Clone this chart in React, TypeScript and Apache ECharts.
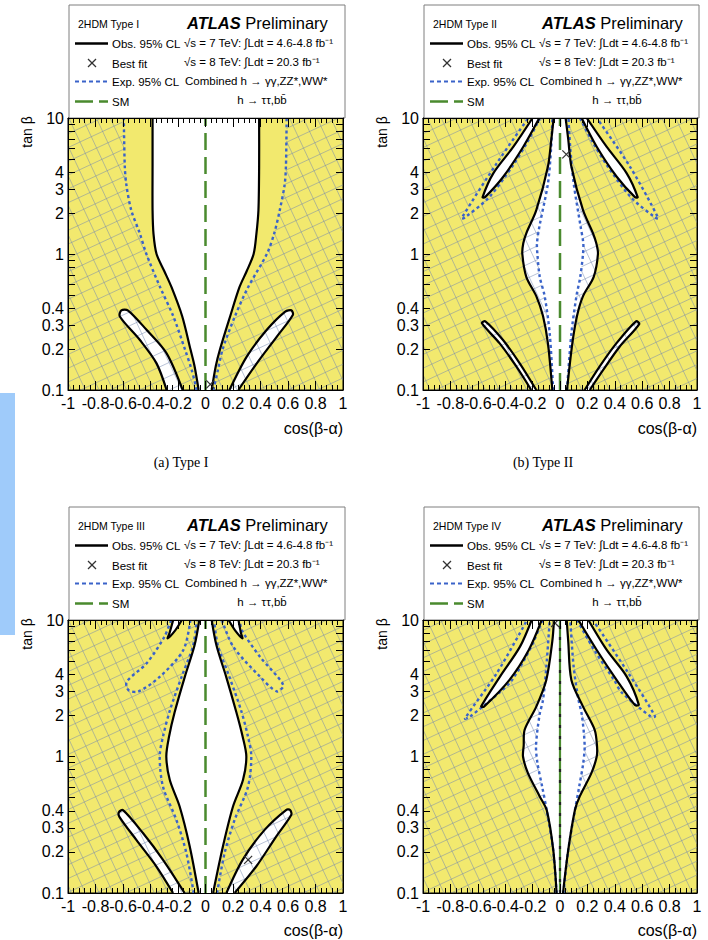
import { useEffect, useRef } from 'react';
import * as echarts from 'echarts';

type Pt = [number, number]; // [cos(beta-alpha), tan(beta)]

const FONT = 'Liberation Sans';
const SERIF = 'Liberation Serif';

const YELLOW = '#f2e96e';
const EXP_BLUE = '#3a63c9';
const SM_GREEN = '#4a8a2e';
const HATCH = 'rgba(115,135,175,0.5)';
const SMOOTH = 0.3;

// ---- axis ranges / ticks ----
const cosRange: Pt = [-1, 1];
const tanRange: Pt = [0.1, 10];
const tanBetaLabels = [0.1, 0.2, 0.3, 0.4, 1, 2, 3, 4, 10];
const tanBetaTicks = [0.1, 0.2, 0.3, 0.4, 0.5, 0.6, 0.7, 0.8, 0.9, 1, 2, 3, 4, 5, 6, 7, 8, 9, 10];
const smCos = 0;

// ---- Type I ----
const typeIObsLeft: Pt[] = [[-0.05, 0.1], [-0.08, 0.15], [-0.11, 0.2], [-0.17, 0.35], [-0.247, 0.57], [-0.3, 0.75], [-0.356, 1.0], [-0.378, 1.4], [-0.385, 2.1], [-0.385, 4.4], [-0.385, 10]];
const typeIObsRight: Pt[] = [[0.39, 10], [0.39, 4.4], [0.385, 2.1], [0.37, 1.4], [0.35, 1.0], [0.3, 0.75], [0.247, 0.57], [0.18, 0.35], [0.106, 0.2], [0.075, 0.15], [0.045, 0.1]];
const typeIExpLeft: Pt[] = [[-0.064, 0.1], [-0.1, 0.14], [-0.15, 0.2], [-0.235, 0.35], [-0.33, 0.57], [-0.43, 1.0], [-0.478, 1.42], [-0.54, 2.1], [-0.575, 3.2], [-0.587, 4.4], [-0.594, 10]];
const typeIExpRight: Pt[] = [[0.057, 0.1], [0.09, 0.14], [0.125, 0.2], [0.215, 0.35], [0.31, 0.57], [0.446, 1.0], [0.5, 1.42], [0.54, 2.1], [0.575, 3.2], [0.585, 4.4], [0.59, 10]];
const typeIIslandLeft: Pt[] = [[-0.166, 0.1], [-0.283, 0.186], [-0.429, 0.277], [-0.563, 0.384], [-0.612, 0.385], [-0.623, 0.347], [-0.477, 0.233], [-0.356, 0.157], [-0.283, 0.1]];
const typeIIslandRight: Pt[] = [[0.174, 0.1], [0.3, 0.176], [0.446, 0.277], [0.58, 0.377], [0.625, 0.385], [0.635, 0.356], [0.519, 0.247], [0.373, 0.157], [0.239, 0.1]];
const typeIBestFit: Pt = [0.035, 0.11];

// ---- Type II ----
const typeIIObsLeft: Pt[] = [[-0.056, 0.1], [-0.088, 0.22], [-0.124, 0.35], [-0.173, 0.49], [-0.246, 0.68], [-0.275, 1.0], [-0.268, 1.2], [-0.246, 1.42], [-0.173, 2.1], [-0.088, 4.4], [-0.063, 7], [-0.046, 10]];
const typeIIObsRight: Pt[] = [[0.041, 10], [0.06, 7], [0.083, 4.4], [0.168, 2.1], [0.241, 1.42], [0.265, 1.2], [0.277, 1.0], [0.246, 0.68], [0.168, 0.49], [0.124, 0.35], [0.09, 0.22], [0.051, 0.1]];
const typeIIExpLeft: Pt[] = [[-0.05, 0.1], [-0.075, 0.26], [-0.112, 0.49], [-0.148, 0.68], [-0.165, 1.0], [-0.168, 1.2], [-0.15, 1.6], [-0.088, 3.3], [-0.065, 6], [-0.055, 10]];
const typeIIExpRight: Pt[] = [[0.051, 0.1], [0.083, 0.26], [0.12, 0.49], [0.148, 0.68], [0.168, 1.0], [0.17, 1.2], [0.15, 1.6], [0.1, 3.3], [0.075, 6], [0.062, 10]];
const typeIIExpWedgeLeft: Pt[] = [[-0.146, 10], [-0.24, 6.6], [-0.35, 4.38], [-0.52, 2.6], [-0.693, 1.86], [-0.718, 1.83], [-0.462, 4.64], [-0.231, 10]];
const typeIIExpWedgeRight: Pt[] = [[0.146, 10], [0.24, 6.6], [0.35, 4.38], [0.52, 2.6], [0.693, 1.86], [0.718, 1.83], [0.511, 4.38], [0.268, 10]];
const typeIIIslandTopLeft: Pt[] = [[-0.151, 10], [-0.268, 6.15], [-0.414, 3.7], [-0.547, 2.62], [-0.565, 2.62], [-0.487, 3.92], [-0.34, 6.15], [-0.2, 10]];
const typeIIIslandTopRight: Pt[] = [[0.158, 10], [0.268, 6.15], [0.414, 3.7], [0.547, 2.62], [0.567, 2.62], [0.487, 3.92], [0.34, 6.15], [0.195, 10]];
const typeIIIslandBottomLeft: Pt[] = [[-0.173, 0.1], [-0.294, 0.157], [-0.416, 0.233], [-0.545, 0.32], [-0.57, 0.31], [-0.44, 0.22], [-0.319, 0.149], [-0.21, 0.1]];
const typeIIIslandBottomRight: Pt[] = [[0.18, 0.1], [0.29, 0.149], [0.411, 0.22], [0.555, 0.32], [0.578, 0.305], [0.435, 0.208], [0.314, 0.14], [0.217, 0.1]];
const typeIIBestFit: Pt = [0.046, 5.4];

// ---- Type III ----
const typeIIIObsLeft: Pt[] = [[-0.05, 0.1], [-0.115, 0.22], [-0.188, 0.43], [-0.26, 0.675], [-0.285, 1.0], [-0.265, 1.4], [-0.225, 2.1], [-0.15, 3.85], [-0.08, 6.5], [-0.045, 10]];
const typeIIIObsRight: Pt[] = [[0.045, 10], [0.08, 6.5], [0.15, 3.85], [0.225, 2.1], [0.27, 1.4], [0.297, 1.0], [0.273, 0.675], [0.2, 0.43], [0.127, 0.22], [0.055, 0.1]];
const typeIIIExpLeft: Pt[] = [[-0.086, 0.1], [-0.139, 0.196], [-0.212, 0.344], [-0.309, 0.6], [-0.333, 1.0], [-0.309, 1.4], [-0.258, 2.19], [-0.173, 3.85], [-0.09, 6.5], [-0.062, 10]];
const typeIIIExpRight: Pt[] = [[0.084, 0.1], [0.139, 0.196], [0.212, 0.344], [0.309, 0.6], [0.333, 1.0], [0.309, 1.4], [0.258, 2.19], [0.173, 3.85], [0.09, 6.5], [0.062, 10]];
const typeIIIExpLobeLeft: Pt[] = [[-0.11, 10], [-0.161, 6.03], [-0.331, 3.85], [-0.489, 2.99], [-0.561, 3.07], [-0.573, 3.53], [-0.428, 4.82], [-0.3, 7.5], [-0.25, 10]];
const typeIIIExpLobeRight: Pt[] = [[0.12, 10], [0.202, 6.38], [0.396, 3.85], [0.518, 3.0], [0.566, 3.34], [0.396, 5.38], [0.263, 8.45], [0.25, 10]];
const typeIIIIslandTopLeft: Pt[] = [[-0.172, 10], [-0.22, 8.4], [-0.275, 7.35], [-0.262, 8.0], [-0.235, 10]];
const typeIIIIslandTopRight: Pt[] = [[0.168, 10], [0.215, 8.4], [0.268, 7.35], [0.258, 8.0], [0.24, 10]];
const typeIIIIslandBottomLeft: Pt[] = [[-0.152, 0.1], [-0.309, 0.175], [-0.455, 0.275], [-0.6, 0.405], [-0.63, 0.39], [-0.625, 0.36], [-0.503, 0.245], [-0.358, 0.157], [-0.236, 0.1]];
const typeIIIIslandBottomRight: Pt[] = [[0.152, 0.1], [0.27, 0.175], [0.43, 0.29], [0.588, 0.407], [0.615, 0.405], [0.624, 0.374], [0.515, 0.26], [0.37, 0.157], [0.212, 0.1]];
const typeIIIBestFit: Pt = [0.31, 0.175];

// ---- Type IV ----
const typeIVObsLeft: Pt[] = [[-0.025, 0.1], [-0.049, 0.206], [-0.097, 0.405], [-0.148, 0.51], [-0.234, 0.755], [-0.27, 1.0], [-0.265, 1.2], [-0.258, 1.57], [-0.173, 2.32], [-0.1, 3.64], [-0.056, 7], [-0.044, 10]];
const typeIVObsRight: Pt[] = [[0.049, 10], [0.06, 7], [0.083, 3.64], [0.168, 2.32], [0.253, 1.57], [0.27, 1.2], [0.268, 1.0], [0.229, 0.755], [0.144, 0.51], [0.109, 0.405], [0.06, 0.206], [0.022, 0.1]];
const typeIVExpLeft: Pt[] = [[-0.025, 0.1], [-0.05, 0.206], [-0.097, 0.405], [-0.13, 0.6], [-0.165, 0.9], [-0.175, 1.2], [-0.15, 2.0], [-0.124, 2.6], [-0.1, 4.5], [-0.075, 10]];
const typeIVExpRight: Pt[] = [[0.025, 0.1], [0.06, 0.206], [0.109, 0.405], [0.14, 0.6], [0.17, 0.9], [0.18, 1.2], [0.16, 2.0], [0.135, 2.6], [0.1, 4.5], [0.075, 10]];
const typeIVExpWedgeLeft: Pt[] = [[-0.128, 10], [-0.21, 6.38], [-0.35, 3.63], [-0.44, 2.95], [-0.66, 1.95], [-0.693, 1.9], [-0.462, 4.07], [-0.24, 10]];
const typeIVExpWedgeRight: Pt[] = [[0.125, 10], [0.25, 6.03], [0.395, 3.63], [0.45, 2.95], [0.66, 1.97], [0.693, 1.97], [0.5, 4.07], [0.24, 10]];
const typeIVIslandTopLeft: Pt[] = [[-0.134, 10], [-0.228, 6.03], [-0.37, 3.63], [-0.555, 2.32], [-0.575, 2.33], [-0.438, 3.85], [-0.292, 6.38], [-0.207, 10]];
const typeIVIslandTopRight: Pt[] = [[0.134, 10], [0.268, 6.03], [0.414, 3.63], [0.547, 2.38], [0.575, 2.4], [0.487, 3.85], [0.341, 6.03], [0.207, 10]];
const typeIVBestFit: Pt = [-0.036, 9.5];

interface Panel {
  title: string;
  caption?: string;
  dx: number;
  dy: number;
  width: number;
  height: number;
  obsCentral: [Pt[], Pt[]];
  islands: Pt[][];
  expLeft: Pt[];
  expRight: Pt[];
  wedgeLeft?: Pt[];
  wedgeRight?: Pt[];
  bestFit: Pt;
  smSolid?: boolean;
}

const panels: Panel[] = [
  {
    title: '2HDM Type I', caption: '(a) Type I', dx: 0, dy: 0, width: 275, height: 272,
    obsCentral: [typeIObsLeft, typeIObsRight], islands: [typeIIslandLeft, typeIIslandRight],
    expLeft: typeIExpLeft, expRight: typeIExpRight, bestFit: typeIBestFit,
  },
  {
    title: '2HDM Type II', caption: '(b) Type II', dx: 355, dy: 0, width: 274, height: 272,
    obsCentral: [typeIIObsLeft, typeIIObsRight],
    islands: [typeIIIslandTopLeft, typeIIIslandTopRight, typeIIIslandBottomLeft, typeIIIslandBottomRight],
    expLeft: typeIIExpLeft, expRight: typeIIExpRight, wedgeLeft: typeIIExpWedgeLeft, wedgeRight: typeIIExpWedgeRight,
    bestFit: typeIIBestFit,
  },
  {
    title: '2HDM Type III', dx: 0, dy: 502, width: 275, height: 273,
    obsCentral: [typeIIIObsLeft, typeIIIObsRight],
    islands: [typeIIIIslandTopLeft, typeIIIIslandTopRight, typeIIIIslandBottomLeft, typeIIIIslandBottomRight],
    expLeft: typeIIIExpLeft, expRight: typeIIIExpRight, wedgeLeft: typeIIIExpLobeLeft, wedgeRight: typeIIIExpLobeRight,
    bestFit: typeIIIBestFit,
  },
  {
    title: '2HDM Type IV', dx: 355, dy: 502, width: 274, height: 273,
    obsCentral: [typeIVObsLeft, typeIVObsRight],
    islands: [typeIVIslandTopLeft, typeIVIslandTopRight],
    expLeft: typeIVExpLeft, expRight: typeIVExpRight, wedgeLeft: typeIVExpWedgeLeft, wedgeRight: typeIVExpWedgeRight,
    bestFit: typeIVBestFit, smSolid: true,
  },
];

const toAxis = (p: Pt) => [p[0], Math.log10(p[1])];

// Push frame-touching ends slightly past the frame so the clipped fill meets the border cleanly.
const extendEnds = (pts: Pt[]): Pt[] => {
  const ext = (p: Pt): Pt | null =>
    p[1] >= tanRange[1] ? [p[0], tanRange[1] * 1.15] : p[1] <= tanRange[0] ? [p[0], tanRange[0] * 0.87] : null;
  const out = pts.slice();
  const a = ext(pts[0]);
  const b = ext(pts[pts.length - 1]);
  if (a) out.unshift(a);
  if (b) out.push(b);
  return out;
};

// Clip a rotated line lattice to a polygon (even-odd scanline) in pixel space.
function hatchSegments(poly: number[][], spacing: number, angles: number[]) {
  const segs: number[][] = [];
  for (const deg of angles) {
    const a = (deg * Math.PI) / 180;
    const d = [Math.cos(a), Math.sin(a)];
    const n = [-Math.sin(a), Math.cos(a)];
    const proj = poly.map((p) => p[0] * n[0] + p[1] * n[1]);
    const sMin = Math.min(...proj);
    const sMax = Math.max(...proj);
    for (let k = Math.ceil(sMin / spacing); k * spacing <= sMax; k++) {
      const s = k * spacing;
      const ts: number[] = [];
      for (let i = 0; i < poly.length; i++) {
        const j = (i + 1) % poly.length;
        const sa = proj[i] - s;
        const sb = proj[j] - s;
        if (sa > 0 !== sb > 0) {
          const u = sa / (sa - sb);
          const px = poly[i][0] + (poly[j][0] - poly[i][0]) * u;
          const py = poly[i][1] + (poly[j][1] - poly[i][1]) * u;
          ts.push(px * d[0] + py * d[1]);
        }
      }
      ts.sort((x, y) => x - y);
      for (let m = 0; m + 1 < ts.length; m += 2) {
        segs.push([
          n[0] * s + d[0] * ts[m], n[1] * s + d[1] * ts[m],
          n[0] * s + d[0] * ts[m + 1], n[1] * s + d[1] * ts[m + 1],
        ]);
      }
    }
  }
  return segs;
}

const lineStyles: Record<string, any> = {
  obs: { stroke: '#000', lineWidth: 2.2, fill: 'none' },
  exp: { stroke: EXP_BLUE, lineWidth: 2.4, lineDash: [3, 3], fill: 'none' },
  sm: { stroke: SM_GREEN, lineWidth: 2.5, lineDash: [17, 7], fill: 'none' },
  smBase: { stroke: SM_GREEN, lineWidth: 2.2, fill: 'none' },
  smDash: { stroke: '#222', lineWidth: 2.2, lineDash: [3, 8], fill: 'none' },
};

const xLabelFmt = (v: number) => {
  const r = Math.round(v * 10) / 10;
  return r === 0 ? '0' : String(r);
};
const yLabelFmt = (v: number) => String(parseFloat(Math.pow(10, v).toPrecision(2)));

function legendGraphics(p: Panel): any[] {
  const L = 68 + p.dx;
  const T = p.dy;
  const txt = (x: number, y: number, text: string, size: number, extra: any = {}) => ({
    type: 'text',
    x: L + x,
    y: T + y,
    style: { text, fontSize: size, fontFamily: FONT, fill: '#000', align: 'left', verticalAlign: 'middle', ...extra },
  });
  const sample = (y: number, style: any) => ({
    type: 'line',
    shape: { x1: L + 7, y1: T + y, x2: L + 40, y2: T + y },
    style,
  });
  return [
    { type: 'rect', shape: { x: L + 1, y: T + 5, width: p.width + 1, height: 113 }, style: { fill: '#fff', stroke: '#7f7f7f', lineWidth: 1 } },
    txt(10, 24, p.title, 10.5),
    {
      type: 'text',
      x: L + 119,
      y: T + 23,
      style: {
        text: '{a|ATLAS} {b|Preliminary}',
        fontSize: 16.5,
        fontFamily: FONT,
        fill: '#000',
        verticalAlign: 'middle',
        rich: {
          a: { fontSize: 16.5, fontFamily: FONT, fontWeight: 'bold', fontStyle: 'italic', fill: '#000' },
          b: { fontSize: 16.5, fontFamily: FONT, fill: '#000' },
        },
      },
    },
    sample(43.5, { stroke: '#000', lineWidth: 2.5 }),
    txt(44, 43.5, 'Obs. 95% CL', 11.5),
    { type: 'line', shape: { x1: L + 20, y1: T + 59, x2: L + 28, y2: T + 67 }, style: { stroke: '#333', lineWidth: 1.2 } },
    { type: 'line', shape: { x1: L + 28, y1: T + 59, x2: L + 20, y2: T + 67 }, style: { stroke: '#333', lineWidth: 1.2 } },
    txt(44, 63.5, 'Best fit', 11.5),
    sample(81.5, { stroke: EXP_BLUE, lineWidth: 2.2, lineDash: [4, 3] }),
    txt(44, 81.5, 'Exp. 95% CL', 11.5),
    sample(101.5, { stroke: SM_GREEN, lineWidth: 2.5, lineDash: [18, 6] }),
    txt(44, 101.5, 'SM', 11.5),
    txt(116, 43, '√s = 7 TeV: ∫Ldt = 4.6-4.8 fb⁻¹', 11.5),
    txt(116, 62, '√s = 8 TeV: ∫Ldt = 20.3 fb⁻¹', 11.5),
    txt(117, 80.5, 'Combined h → γγ,ZZ*,WW*', 11.5),
    txt(194, 99.5, 'h → ττ,bb̄', 11.5, { align: 'center' }),
    // axis titles
    {
      type: 'text', x: 27 + p.dx, y: T + 132, rotation: Math.PI / 2,
      style: { text: 'tan β', fontSize: 14, fontFamily: FONT, fill: '#000', align: 'center', verticalAlign: 'middle' },
    },
    {
      type: 'text', x: L + p.width, y: T + 428,
      style: { text: 'cos(β-α)', fontSize: 16, fontFamily: FONT, fill: '#000', align: 'right', verticalAlign: 'middle' },
    },
  ];
}

function buildOption() {
  const grid: any[] = [];
  const xAxis: any[] = [];
  const yAxis: any[] = [];
  const series: any[] = [];
  const graphic: any[] = [
    { type: 'rect', shape: { x: 0, y: 393, width: 15, height: 242 }, style: { fill: '#9fcbfa' } },
  ];

  const yLabelValues = tanBetaLabels.map(Math.log10);
  const yTickValues = tanBetaTicks.map(Math.log10);

  panels.forEach((p, i) => {
    grid.push({
      left: 68 + p.dx, top: 118 + p.dy, width: p.width, height: p.height,
      show: true, backgroundColor: YELLOW, borderColor: '#000', borderWidth: 1,
      containLabel: false, outerBoundsMode: 'none',
    });
    const axisLine = { show: true, onZero: false, lineStyle: { color: '#000', width: 1 } };
    const xCommon = {
      type: 'value', gridIndex: i, min: cosRange[0], max: cosRange[1], interval: 0.2, z: 10,
      axisLine, splitLine: { show: false }, minorSplitLine: { show: false },
      axisTick: { show: true, inside: true, length: 9, lineStyle: { color: '#000' } },
      minorTick: { show: true, splitNumber: 5, length: 5, lineStyle: { color: '#000' } },
    };
    xAxis.push({
      ...xCommon, position: 'bottom',
      axisLabel: {
        show: true, formatter: xLabelFmt, fontSize: 16, color: '#000', fontFamily: FONT, margin: 5,
        showMinLabel: true, showMaxLabel: true, hideOverlap: false,
      },
    });
    xAxis.push({ ...xCommon, position: 'top', axisLabel: { show: false } });
    const yCommon = {
      type: 'value', gridIndex: i, min: -1, max: 1, z: 10,
      axisLine, splitLine: { show: false },
      axisTick: { show: true, inside: true, length: 7, customValues: yTickValues, lineStyle: { color: '#000' } },
    };
    yAxis.push({
      ...yCommon, position: 'left',
      axisLabel: {
        show: true, customValues: yLabelValues, formatter: yLabelFmt, fontSize: 16, color: '#000',
        fontFamily: FONT, margin: 4, showMinLabel: true, showMaxLabel: true, hideOverlap: false,
      },
    });
    yAxis.push({ ...yCommon, position: 'right', axisLabel: { show: false } });

    const xi = 2 * i;
    const yi = 2 * i;

    // Observed-allowed regions (white)
    const fills: Pt[][] = [
      [...extendEnds(p.obsCentral[0]), ...extendEnds(p.obsCentral[1])],
      ...p.islands.map(extendEnds),
    ];
    series.push({
      type: 'custom', coordinateSystem: 'cartesian2d', xAxisIndex: xi, yAxisIndex: yi,
      clip: true, z: 2, silent: true,
      data: fills.map((_, k) => [0, 0, k]),
      renderItem: (params: any, api: any) => ({
        type: 'polygon',
        shape: { points: fills[params.dataIndex].map((pt) => api.coord(toAxis(pt))), smooth: SMOOTH },
        style: { fill: '#fff' },
      }),
    });

    // Hatching: everything outside the expected 95% CL region
    const hatchPieces: Pt[][] = [
      [[cosRange[0], tanRange[0]], ...p.expLeft, ...(p.wedgeLeft || []), [cosRange[0], tanRange[1]]],
      [[cosRange[1], tanRange[0]], ...p.expRight, ...(p.wedgeRight || []), [cosRange[1], tanRange[1]]],
    ];
    series.push({
      type: 'custom', coordinateSystem: 'cartesian2d', xAxisIndex: xi, yAxisIndex: yi,
      clip: true, z: 3, silent: true,
      data: hatchPieces.map((_, k) => [0, 0, k]),
      renderItem: (params: any, api: any) => {
        const poly = hatchPieces[params.dataIndex].map((pt) => api.coord(toAxis(pt)));
        const segs = hatchSegments(poly, 12.5, [-25, 65]);
        return {
          type: 'group',
          children: segs.map((s) => ({
            type: 'line',
            shape: { x1: s[0], y1: s[1], x2: s[2], y2: s[3] },
            style: { stroke: HATCH, lineWidth: 1 },
          })),
        };
      },
    });

    // Contours, SM line and best fit
    const smLine: Pt[] = [[smCos, tanRange[0]], [smCos, tanRange[1]]];
    const lines: { pts: Pt[]; kind: string }[] = [
      { pts: p.expLeft, kind: 'exp' },
      { pts: p.expRight, kind: 'exp' },
      ...(p.wedgeLeft ? [{ pts: p.wedgeLeft, kind: 'exp' }] : []),
      ...(p.wedgeRight ? [{ pts: p.wedgeRight, kind: 'exp' }] : []),
      { pts: p.obsCentral[0], kind: 'obs' },
      { pts: p.obsCentral[1], kind: 'obs' },
      ...p.islands.map((pts) => ({ pts, kind: 'obs' })),
      ...(p.smSolid
        ? [{ pts: smLine, kind: 'smBase' }, { pts: smLine, kind: 'smDash' }]
        : [{ pts: smLine, kind: 'sm' }]),
      { pts: [p.bestFit], kind: 'fit' },
    ];
    series.push({
      type: 'custom', coordinateSystem: 'cartesian2d', xAxisIndex: xi, yAxisIndex: yi,
      clip: true, z: 4, silent: true,
      data: lines.map((_, k) => [0, 0, k]),
      renderItem: (params: any, api: any) => {
        const item = lines[params.dataIndex];
        if (item.kind === 'fit') {
          const c = api.coord(toAxis(item.pts[0]));
          const r = 4;
          const st = { stroke: '#333', lineWidth: 1.2 };
          return {
            type: 'group',
            children: [
              { type: 'line', shape: { x1: c[0] - r, y1: c[1] - r, x2: c[0] + r, y2: c[1] + r }, style: st },
              { type: 'line', shape: { x1: c[0] + r, y1: c[1] - r, x2: c[0] - r, y2: c[1] + r }, style: st },
            ],
          };
        }
        return {
          type: 'polyline',
          shape: { points: item.pts.map((pt) => api.coord(toAxis(pt))), smooth: item.pts.length > 2 ? SMOOTH : 0 },
          style: lineStyles[item.kind],
        };
      },
    });

    graphic.push(...legendGraphics(p));
    if (p.caption) {
      graphic.push({
        type: 'text', x: p.dx === 0 ? 181 : 543, y: 462 + p.dy,
        style: { text: p.caption, fontSize: 14, fontFamily: SERIF, fill: '#000', align: 'center', verticalAlign: 'middle' },
      });
    }
  });

  return { animation: false, backgroundColor: '#fff', grid, xAxis, yAxis, series, graphic };
}

export default function App() {
  const ref = useRef<HTMLDivElement>(null);
  useEffect(() => {
    if (!ref.current) return;
    const chart = echarts.init(ref.current, null, { renderer: 'svg' });
    chart.setOption(buildOption() as any);
    return () => chart.dispose();
  }, []);
  return (
    <div
      ref={ref}
      style={{ position: 'absolute', left: 0, top: 0, width: 708, height: 940, background: '#fff' }}
    />
  );
}
